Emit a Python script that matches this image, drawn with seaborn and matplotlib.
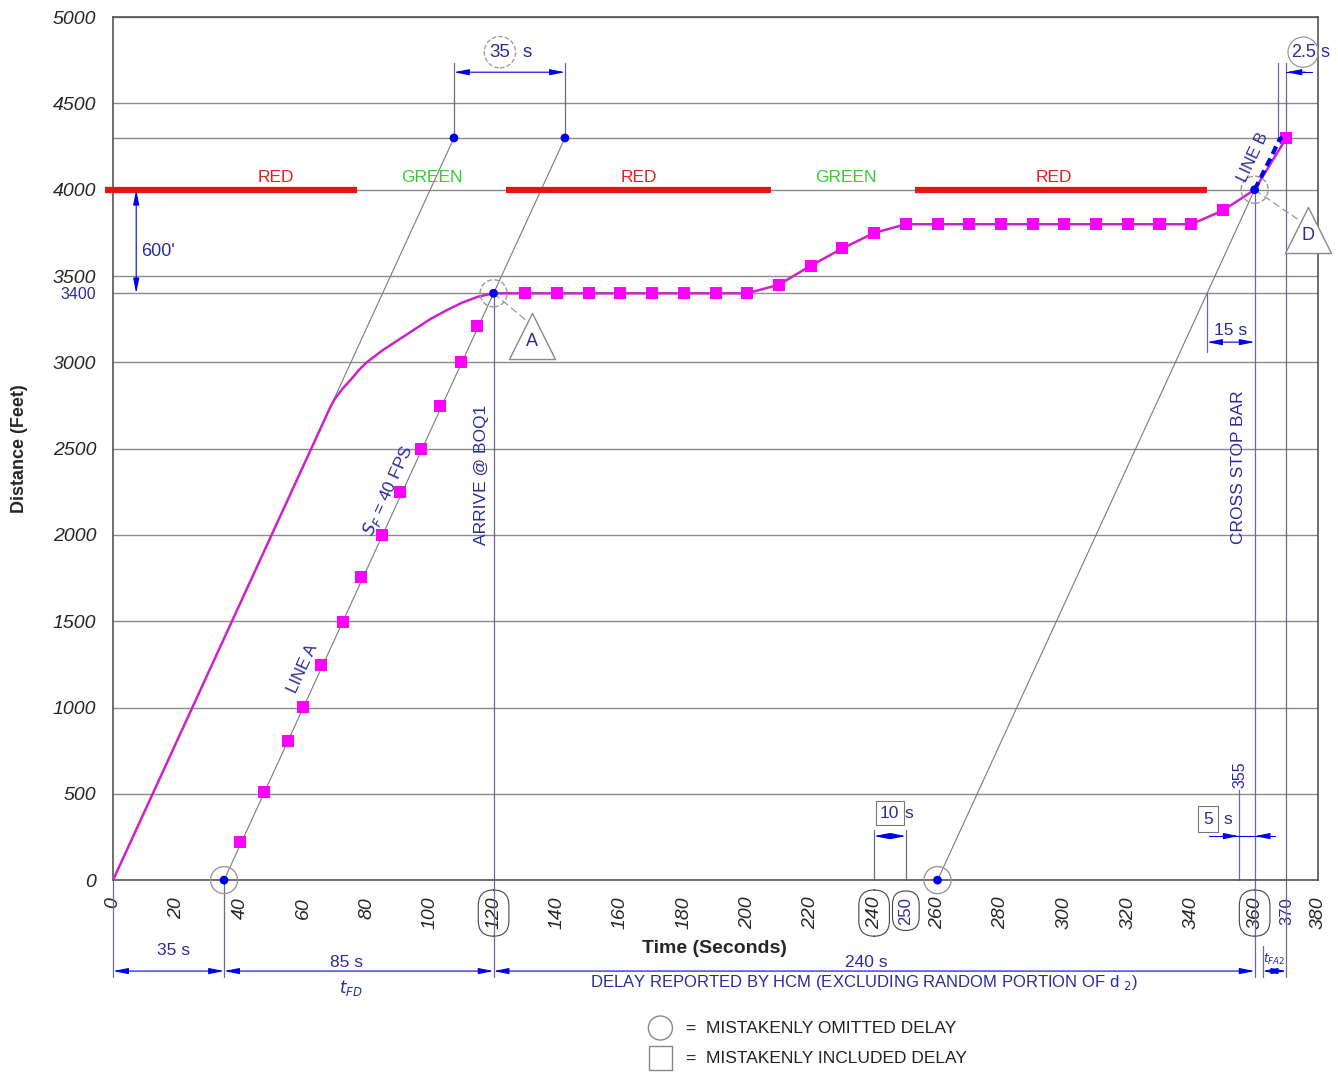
import pandas as pd
import seaborn as sns
import matplotlib.pyplot as plt

sns.set_style('white')
plt.rcParams['font.family'] = ['Liberation Sans', 'DejaVu Sans']

BLUE = '#2b2b9c'
DOT = '#0000ee'
MAG = '#ff00ff'
MAGLINE = '#cc22cc'
GRAY = '#7a7a7a'

# trajectory approaching the back of queue
approach_t = [0, 35, 68.5, 70, 72.5, 75, 77.5, 80, 85, 90, 95, 100, 105, 110, 115, 120]
approach_d = [0, 1400, 2740, 2790, 2850, 2900, 2955, 3000, 3070, 3130, 3190, 3250, 3300, 3345, 3380, 3400]

# trajectory in the queue until crossing the stop bar (10 s steps)
queue_t = list(range(120, 371, 10))
queue_d = [3400] * 9 + [3450, 3560, 3660, 3750] + [3800] * 10 + [3880, 4000, 4300]

# squares along LINE A
lineA_t = [40.1, 47.6, 55.2, 60.0, 65.6, 72.6, 78.3, 84.9, 90.6, 97.2, 103.2, 109.8, 114.9]
lineA_d = [220, 510, 805, 1002, 1245, 1495, 1755, 2000, 2248, 2497, 2746, 3001, 3210]

# 40 fps free-flow reference lines
ref_t0 = [0, 35, 260]
ref_t1 = [107.5, 142.5, 360]
ref_d1 = [4300, 4300, 4000]

# LINE B (dashed)
lineB_t = [360, 363, 365.5, 367, 368, 368.8]
lineB_d = [4000, 4110, 4200, 4260, 4295, 4300]

# key points (blue dots)
dot_t = [35, 107.5, 142.5, 120, 260, 360]
dot_d = [0, 4300, 4300, 3400, 0, 4000]

# signal phases at the stop bar (4000 ft)
red_start = [-2.5, 124, 253]
red_end = [77, 207.5, 345]
phase_names = ['RED', 'GREEN', 'RED', 'GREEN', 'RED']
phase_mid = [51.5, 100.5, 165.7, 231, 296.6]

fig = plt.figure(figsize=(13.38, 10.72), dpi=100)
ax = fig.add_axes([0.0845, 0.179, 0.9006, 0.805])

# reference lines
for t0, t1, d1 in zip(ref_t0, ref_t1, ref_d1):
    ref = pd.DataFrame({'t': [t0, t1], 'd': [0, d1]})
    sns.lineplot(data=ref, x='t', y='d', ax=ax, color=GRAY, lw=0.8, zorder=2)

# trajectory
traj = pd.DataFrame({'t': approach_t + queue_t[1:], 'd': approach_d + queue_d[1:]})
sns.lineplot(data=traj, x='t', y='d', ax=ax, sort=False, estimator=None,
             color=MAGLINE, lw=1.8, zorder=3)

sq = pd.DataFrame({'t': lineA_t + [t for t in queue_t[1:] if t != 360],
                   'd': lineA_d + [d for t, d in zip(queue_t[1:], queue_d[1:]) if t != 360]})
sns.scatterplot(data=sq, x='t', y='d', ax=ax, marker='s', s=75, color=MAG,
                edgecolor='none', zorder=4)

lb = pd.DataFrame({'t': lineB_t, 'd': lineB_d})
sns.lineplot(data=lb, x='t', y='d', ax=ax, sort=False, estimator=None,
             color=DOT, lw=3, ls=(0, (2, 1.2)), zorder=5)

dots = pd.DataFrame({'t': dot_t, 'd': dot_d})
sns.scatterplot(data=dots, x='t', y='d', ax=ax, s=40, color=DOT, edgecolor='none',
                zorder=6, clip_on=False)
ax.scatter([35, 260], [0, 0], s=380, facecolors='none', edgecolors='#999999',
           lw=1, zorder=6, clip_on=False)
ax.scatter([120, 360], [3400, 4000], s=380, facecolors='none', edgecolors='#999999',
           lw=1, linestyles='--', zorder=6, clip_on=False)

# signal bars
for s, e in zip(red_start, red_end):
    ax.plot([s, e], [4000, 4000], color='#ee1111', lw=4.5, zorder=3,
            solid_capstyle='butt', clip_on=False)
for name, m in zip(phase_names, phase_mid):
    ax.text(m, 4073, name, color='#e02020' if name == 'RED' else '#33cc33',
            fontsize=12.5, ha='center', va='center')

# axes, ticks and grid
ax.set_xlim(0, 380)
ax.set_ylim(0, 5000)
xt = sorted(list(range(0, 381, 20)) + [250, 370])
ax.set_xticks(xt)
ax.set_xticklabels([str(v) for v in xt], rotation=90, fontstyle='italic', fontsize=14)
ax.set_xticks(range(10, 380, 20), minor=True)
for lab in ax.get_xticklabels():
    if lab.get_text() in ('250', '370'):
        lab.set_color(BLUE)
        lab.set_fontstyle('normal')
        lab.set_fontsize(12)
    if lab.get_text() in ('120', '240', '250', '360'):
        lab.set_bbox(dict(boxstyle='round,pad=0.35,rounding_size=0.8', fc='white',
                          ec='#444444', lw=0.8))
yt = sorted(list(range(0, 5001, 500)) + [3400, 4300])
ax.set_yticks(yt)
ax.set_yticklabels(['' if v == 4300 else str(v) for v in yt], fontstyle='italic', fontsize=14)
for lab in ax.get_yticklabels():
    if lab.get_text() == '3400':
        lab.set_color(BLUE)
        lab.set_fontstyle('normal')
        lab.set_fontsize(11.5)
ax.tick_params(axis='both', which='major', direction='out', length=6, color='#555555', pad=6)
ax.tick_params(axis='x', which='minor', direction='out', length=4, color='#555555')
ax.yaxis.grid(True, color='#8a8a8a', lw=1)
ax.xaxis.grid(False)
ax.set_axisbelow(True)
for sp in ax.spines.values():
    sp.set_color('#555555')
    sp.set_linewidth(1.2)

ax.set_xlabel('Time (Seconds)', fontsize=14, fontweight='bold')
ax.xaxis.set_label_coords(0.499, -0.069)
ax.set_ylabel('Distance (Feet)', fontsize=13, fontweight='bold')
ax.yaxis.set_label_coords(-0.071, 0.5)


def vline(t, d0, d1, color='#6a6a90'):
    ax.plot([t, t], [d0, d1], color=color, lw=0.9, zorder=1.5, clip_on=False)


def dim(x0, y0, x1, y1, style='<|-|>'):
    ax.annotate('', xy=(x1, y1), xytext=(x0, y0), annotation_clip=False,
                arrowprops=dict(arrowstyle=style + ',head_length=0.9,head_width=0.18',
                                color=DOT, lw=0.8, shrinkA=0, shrinkB=0))


# extension lines
vline(120, -560, 3400)
vline(360, -560, 4000)
vline(370, -560, 4733)
vline(367.5, 4300, 4733)
vline(107.5, 4300, 4733)
vline(142.5, 4300, 4733)
vline(0, -560, 0)
vline(35, -560, 0)
vline(362.5, -560, -380)
vline(345, 3060, 3400)
vline(355, 0, 520)
vline(240, 0, 290)
vline(250, 0, 290)

# top dimensions
dim(107.5, 4681, 142.5, 4681)
ax.text(122, 4797, '35', color=BLUE, fontsize=13.5, ha='center', va='center',
        bbox=dict(boxstyle='circle,pad=0.28', fc='white', ec='#999999', ls='--', lw=0.9))
ax.text(129, 4797, 's', color=BLUE, fontsize=13.5, ha='left', va='center')
ax.plot([370, 378], [4681, 4681], color=DOT, lw=0.8, clip_on=False)
dim(376, 4681, 370, 4681, style='-|>')
ax.text(375.3, 4797, '2.5', color=BLUE, fontsize=13, ha='center', va='center', zorder=7,
        bbox=dict(boxstyle='circle,pad=0.15', fc='none', ec='#999999', lw=0.9))
ax.text(380.8, 4797, 's', color=BLUE, fontsize=13, ha='left', va='center', clip_on=False)

# 600' dimension
dim(7.3, 4000, 7.3, 3400)
ax.text(8.8, 3644, "600'", color=BLUE, fontsize=13, ha='left', va='center')

# 15 s
dim(345, 3117, 360, 3117)
ax.text(352.5, 3187, '15 s', color=BLUE, fontsize=12.5, ha='center', va='center')

# 10 s and 5 s
dim(240, 255, 250, 255)
ax.text(244.9, 388, '10', color=BLUE, fontsize=12.5, ha='center', va='center',
        bbox=dict(boxstyle='square,pad=0.25', fc='white', ec='#777777', lw=0.8))
ax.text(249.7, 388, 's', color=BLUE, fontsize=12.5, ha='left', va='center')
ax.plot([345.5, 366.5], [255, 255], color=DOT, lw=0.8)
dim(350, 255, 355, 255, style='-|>')
dim(364.5, 255, 360, 255, style='-|>')
ax.text(345.2, 353, '5', color=BLUE, fontsize=12.5, ha='center', va='center',
        bbox=dict(boxstyle='square,pad=0.3', fc='white', ec='#777777', lw=0.8))
ax.text(350.3, 353, 's', color=BLUE, fontsize=12.5, ha='left', va='center')
ax.text(355.3, 608, '355', color=BLUE, fontsize=11.5, ha='center', va='center', rotation=90)

# rotated labels
ax.text(59.7, 1228, 'LINE A', color=BLUE, fontsize=12, rotation=65.4,
        rotation_mode='anchor', ha='center', va='center')
ax.text(86.8, 2260, '$S_F$ = 40 FPS', color=BLUE, fontsize=12.5, rotation=65.4,
        rotation_mode='anchor', ha='center', va='center')
ax.text(359.4, 4190, 'LINE B', color=BLUE, fontsize=12, rotation=65,
        rotation_mode='anchor', ha='center', va='center', zorder=7)
ax.text(116.1, 2346, 'ARRIVE @ BOQ1', color=BLUE, fontsize=12.5, rotation=90,
        ha='center', va='center')
ax.text(355, 2393, 'CROSS STOP BAR', color=BLUE, fontsize=12.5, rotation=90,
        ha='center', va='center')

# triangle call-outs
ax.plot([120, 130.5], [3400, 3240], color='#999999', lw=0.9, ls=(0, (6, 3)))
ax.plot([360, 373.5], [4000, 3830], color='#999999', lw=0.9, ls=(0, (6, 3)))
ax.scatter([132.2, 376.8], [3150, 3765], marker='^', s=1100, facecolors='white',
           edgecolors='#888888', lw=1, zorder=6, clip_on=False)
ax.text(132.2, 3120, 'A', color=BLUE, fontsize=13, ha='center', va='center', zorder=7)
ax.text(376.8, 3735, 'D', color=BLUE, fontsize=13, ha='center', va='center', zorder=7,
        clip_on=False)

# bottom dimension chain
dim(0, -527, 35, -527)
dim(35, -527, 120, -527)
dim(120, -527, 360, -527)
dim(362.5, -527, 370, -527)
ax.text(19, -410, '35 s', color=BLUE, fontsize=12.5, ha='center', va='center')
ax.text(73.5, -475, '85 s', color=BLUE, fontsize=12.5, ha='center', va='center')
ax.text(75, -625, '$t_{FD}$', color=BLUE, fontsize=12, ha='center', va='center')
ax.text(237.6, -475, '240 s', color=BLUE, fontsize=12.5, ha='center', va='center')
ax.text(236.7, -591, 'DELAY REPORTED BY HCM (EXCLUDING RANDOM PORTION OF d $_{2}$)',
        color=BLUE, fontsize=12, ha='center', va='center')
ax.text(366.2, -462, '$t_{FA2}$', color=BLUE, fontsize=9, ha='center', va='center')

# legend
ax.scatter([172.6], [-857], marker='o', s=300, facecolors='none', edgecolors='#888888',
           lw=1, clip_on=False)
ax.scatter([172.6], [-1031], marker='s', s=280, facecolors='none', edgecolors='#888888',
           lw=1, clip_on=False)
ax.text(180.8, -857, '=  MISTAKENLY OMITTED DELAY', fontsize=12.5, ha='left', va='center',
        color='#222222')
ax.text(180.8, -1031, '=  MISTAKENLY INCLUDED DELAY', fontsize=12.5, ha='left', va='center',
        color='#222222')

fig.savefig('out.png', dpi=100)
